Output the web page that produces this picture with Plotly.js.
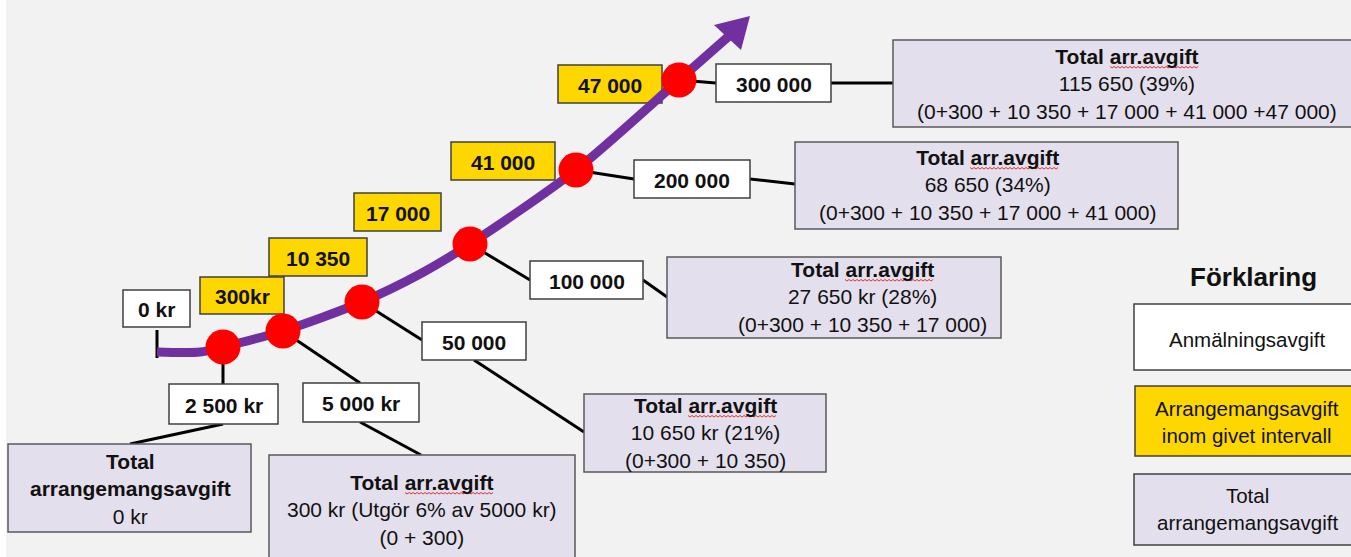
<!DOCTYPE html>
<html><head><meta charset="utf-8">
<script src="https://cdn.plot.ly/plotly-3.0.1.min.js"></script>
<style>html,body{margin:0;padding:0;background:#f2f2f2}#c{width:1351px;height:557px}</style>
</head><body><div id="c"></div>
<script>
// ---- data ----
const thresholds = ['0 kr', '2 500 kr', '5 000 kr', '50 000', '100 000', '200 000', '300 000'];
const fees = ['300kr', '10 350', '17 000', '41 000', '47 000'];
const totalTitles = ['Total<br>arrangemangsavgift', 'Total arr.avgift', 'Total arr.avgift', 'Total arr.avgift', 'Total arr.avgift', 'Total arr.avgift'];
const totals = ['0 kr', '300 kr (Utgör 6% av 5000 kr)', '10 650 kr (21%)', '27 650 kr (28%)', '68 650 (34%)', '115 650 (39%)'];
const sums = ['', '(0 + 300)', '(0+300 + 10 350)', '(0+300 + 10 350 + 17 000)', '(0+300 + 10 350 + 17 000 + 41 000)', '(0+300 + 10 350 + 17 000 + 41 000 +47 000)'];
const legendTitle = 'Förklaring';
const legendLabels = ['Anmälningsavgift', 'Arrangemangsavgift<br>inom givet intervall', 'Total<br>arrangemangsavgift'];

// ---- layout geometry (pixels) ----
const W = 1351, H = 557;
const FONT = 'Liberation Sans, Arial, sans-serif';
const purple = '#7030a0', yellow = '#ffd700', lav = '#e4dfec', border = '#595959';
const curveX = [157, 200, 223, 283, 362, 420, 470, 576, 679, 729];
const curveY = [352, 352, 347, 331, 302, 274, 244, 170, 80, 36];
const dotX = [223, 283, 362, 470, 576, 679];
const dotY = [347, 331, 302, 244, 170, 80];
const threshBox = [[123,190,290,327],[169,278,384,424],[303,419,383,422],[422,526,322,360],[530,643,261,299],[634,750,160,198],[716,831,64,102]];
const feeBox = [[200,284,277,314],[269,367,238,276],[354,441,193,231],[451,555,142,180],[558,662,65,103]];
const totBox = [[8,251,444,532],[269,575,455,570],[584,826,394,472],[667,1001,257,338],[795,1178,142,229],[893,1360,40,127]];
const totText = [[130,489],[422,510],[705,433],[862,297],[987,185],[1127,84]];
const connectors = [
  [[157,330],[157,358]],
  [[223,347],[223,384]], [[223,424],[130,444]],
  [[283,331],[360,383]], [[360,422],[421,455]],
  [[362,302],[422,340]], [[474,360],[584,432]],
  [[470,244],[530,280]], [[643,280],[667,297]],
  [[576,170],[634,179]], [[750,179],[795,184]],
  [[679,80],[716,83]], [[831,83],[893,83]]
];
const legBox = [[1134,1360,304,370,'#ffffff'],[1135,1360,386,456,yellow],[1134,1360,474,545,lav]];

const shapes = [];
const ann = [];
shapes.push({type:'rect',xref:'x',yref:'y',x0:0,x1:6,y0:0,y1:H,fillcolor:'#ffffff',line:{width:0},layer:'below'});
connectors.forEach(c => shapes.push({type:'line',x0:c[0][0],y0:c[0][1],x1:c[1][0],y1:c[1][1],line:{color:'#000',width:3},layer:'below'}));
function box(b, fill, lc){
  shapes.push({type:'rect',x0:b[0],x1:b[1],y0:b[2],y1:b[3],fillcolor:fill,line:{color:lc,width:1.5},layer:'below'});
}
thresholds.forEach((t,i)=>{
  const b = threshBox[i]; box(b,'#ffffff','#404040');
  ann.push({x:(b[0]+b[1])/2,y:(b[2]+b[3])/2+1,text:'<b>'+t+'</b>',showarrow:false,font:{family:FONT,size:21,color:'#111'}});
});
fees.forEach((t,i)=>{
  const b = feeBox[i]; box(b,yellow,'#404040');
  ann.push({x:(b[0]+b[1])/2,y:(b[2]+b[3])/2+1,text:'<b>'+t+'</b>',showarrow:false,font:{family:FONT,size:21,color:'#111'}});
});
const FS = 21;
totals.forEach((t,i)=>{
  const b = totBox[i]; box(b,lav,border);
  const p = totText[i];
  let txt;
  if(i===0) txt = '<b>'+totalTitles[i]+'</b><br>'+t;
  else txt = '<b>'+totalTitles[i]+'</b><br>'+t+'<br>'+sums[i];
  ann.push({x:p[0],y:p[1],text:txt,showarrow:false,font:{family:FONT,size:FS,color:'#111'},align:'center'});
  if(i>0){
    // spell-check squiggle under "arr.avgift"
    const lineH = 26.5;
    const w = 6.946*FS, sx = p[0]-w/2+2.667*FS, ex = p[0]+w/2;
    const yb = p[1]-lineH+9;
    let d = 'M'+sx+','+yb;
    let k=0;
    for(let x=sx+2;x<=ex;x+=2){ k++; d += ' L'+x+','+(yb+(k%2?1.5:0)); }
    shapes.push({type:'path',path:d,line:{color:'#e03030',width:1},layer:'above'});
  }
});
// legend
ann.push({x:1253,y:277,text:'<b>'+legendTitle+'</b>',showarrow:false,font:{family:FONT,size:26,color:'#111'}});
const legTextY = [339,422,509];
legendLabels.forEach((t,i)=>{
  const b = legBox[i]; box(b,b[4],'#404040');
  ann.push({x:1247,y:legTextY[i],text:t,showarrow:false,font:{family:FONT,size:20.5,color:'#111'},align:'center'});
});
// arrow head
shapes.push({type:'path',path:'M750,16 L714,25 L741,50 Z',fillcolor:purple,line:{color:purple,width:0},layer:'above'});

const traces = [
  {x:curveX,y:curveY,mode:'lines',line:{color:purple,width:9,shape:'spline',smoothing:0.8},hoverinfo:'skip'},
  {x:dotX,y:dotY,mode:'markers',marker:{color:'#ff0000',size:35,line:{width:0}},hoverinfo:'skip'}
];
const layout = {
  width:W,height:H,margin:{l:0,r:0,t:0,b:0},
  paper_bgcolor:'#f2f2f2',plot_bgcolor:'#f2f2f2',showlegend:false,
  xaxis:{range:[0,W],visible:false,fixedrange:true},
  yaxis:{range:[H,0],visible:false,fixedrange:true},
  shapes:shapes,annotations:ann
};
Plotly.newPlot('c',traces,layout,{displayModeBar:false,staticPlot:true});
</script></body></html>
